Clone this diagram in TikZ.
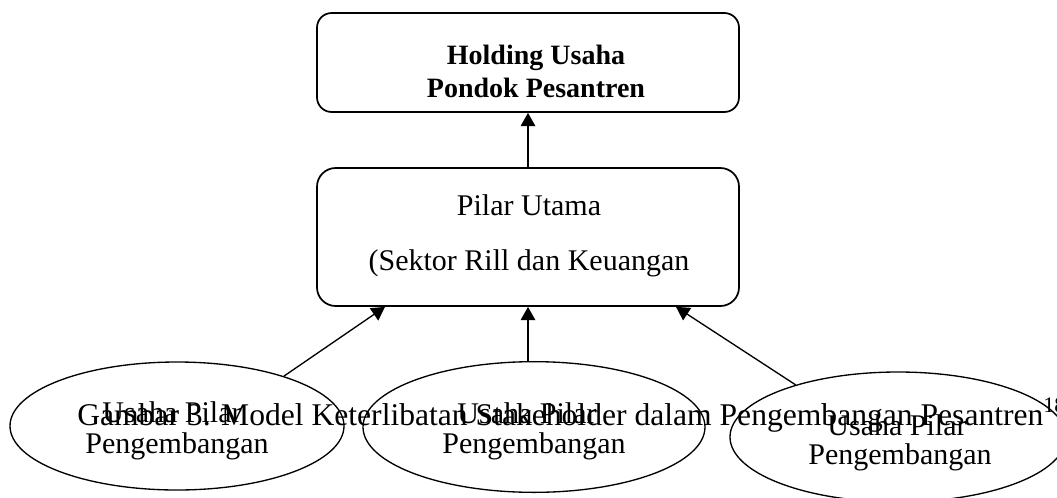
\documentclass[tikz,border=0pt]{standalone}
\usepackage{fontspec}
\setmainfont{Liberation Serif}
\usetikzlibrary{shapes.geometric,arrows.meta,calc}
\begin{document}
\begin{tikzpicture}[x=0.75pt,y=-0.75pt,
  box/.style={draw,line width=1.3pt,fill=white,inner sep=0pt},
  oval/.style={draw,ellipse,line width=1pt,inner sep=0pt},
  arr/.style={line width=1pt,-{Triangle[length=10pt,width=11pt]}},
  boldtxt/.style={anchor=base,inner sep=0pt,font=\fontsize{21}{25}\selectfont\bfseries},
  txt/.style={anchor=base,inner sep=0pt,font=\fontsize{22.5}{27}\selectfont},
  captxt/.style={anchor=base west,inner sep=0pt,font=\fontsize{23.7}{28}\selectfont}]
\useasboundingbox (0,0) rectangle (1057,497);
\clip (0,0) rectangle (1057,497);

% boxes
\node[box,rounded corners=11pt,minimum width=316.5pt,minimum height=74.25pt] (hold) at (528,62.5) {};
\node[box,rounded corners=14pt,minimum width=316.5pt,minimum height=103.5pt] (pilar) at (528,237) {};

% ellipses
\node[oval,minimum width=250.5pt,minimum height=96pt] (e1) at (177,426) {};
\node[oval,minimum width=256.5pt,minimum height=98pt] (e2) at (534,427) {};
\node[oval,minimum width=252pt,minimum height=97.5pt] (e3) at (898,437) {};

% connectors
\coordinate (tl) at ($(pilar.south)+(-143,0)$);
\coordinate (tr) at ($(pilar.south)+(148,0)$);
\draw[arr] (pilar.north) -- (hold.south);
\draw[arr] (pilar.south |- e2.north) -- (pilar.south);
\draw[arr] (e1.25) -- (tl);
\draw[arr] (e3.153) -- (tr);

% texts
\node[boldtxt] (t1) at (536,64) {Holding Usaha};
\node[boldtxt] (t2) at (536,97) {Pondok Pesantren};
\node[txt] (p1) at (529,215) {Pilar Utama};
\node[txt] (p2) at (529,270) {(Sektor Rill dan Keuangan};
\node[txt] (u1) at (172,422) {Usaha Pilar};
\node[txt] (g1) at (177,453) {Pengembangan};
\node[txt] (u2) at (527,423) {Usaha Pilar};
\node[txt] (g2) at (534,453) {Pengembangan};
\node[txt] (u3) at (897,435) {Usaha Pilar};
\node[txt] (g3) at (900,464) {Pengembangan};
\node[captxt] (cap) at (77,425) {Gambar 3. Model Keterlibatan Stakeholder dalam Pengembangan Pesantren\textsuperscript{18}};
\end{tikzpicture}
\end{document}
